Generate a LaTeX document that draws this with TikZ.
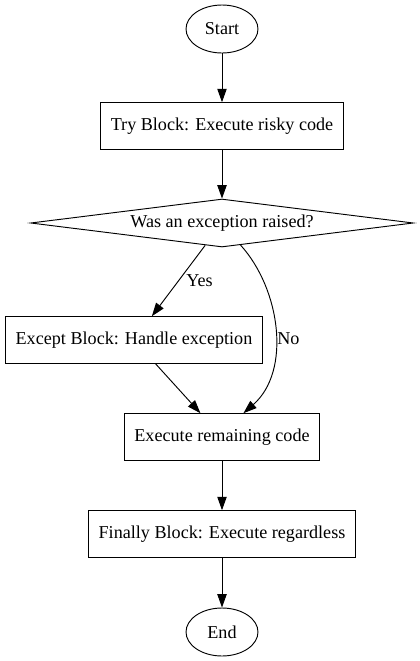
\documentclass[tikz,border=0pt]{standalone}
\usepackage{fontspec}
\setmainfont{Liberation Serif}
\usetikzlibrary{arrows.meta,shapes.geometric}
\begin{document}
\begin{tikzpicture}[x=0.75pt,y=-0.75pt,
  every node/.style={font=\fontsize{13.6pt}{16pt}\selectfont},
  boxnode/.style={draw,rectangle,line width=0.7pt,minimum height=35pt,inner xsep=7.5pt,inner ysep=0pt},
  ovalnode/.style={draw,ellipse,line width=0.7pt,minimum width=54pt,minimum height=36pt,inner sep=0pt},
  decnode/.style={draw,diamond,line width=0.7pt,aspect=8,minimum width=287pt,minimum height=36pt,inner sep=0pt},
  lbl/.style={inner sep=0pt,anchor=west},
  flow/.style={line width=0.7pt,-{Triangle[length=10pt,width=7pt]}}
]
\useasboundingbox (0,0) rectangle (419,661);
\node[ovalnode] (start) at (222,29) {Start};
\node[boxnode] (try) at (222,126) {Try Block: Execute risky code};
\node[decnode] (dec) at (222,223) {Was an exception raised?};
\node[boxnode] (exc) at (134,340) {Except Block: Handle exception};
\node[boxnode] (rem) at (222,437) {Execute remaining code};
\node[boxnode] (fin) at (222,534) {Finally Block: Execute regardless};
\node[ovalnode] (endnode) at (222,632) {End};
\draw[flow] (start) -- (try);
\draw[flow] (try) -- (dec);
\draw[flow] (dec) -- (exc);
\draw[flow] (dec.-50) .. controls +(40,44) and +(48,-42) .. (rem.48);
\draw[flow] (exc) -- (rem);
\draw[flow] (rem) -- (fin);
\draw[flow] (fin) -- (endnode);
\node[lbl] (yes) at (186,281) {Yes};
\node[lbl] (no) at (277,339) {No};
\end{tikzpicture}
\end{document}
